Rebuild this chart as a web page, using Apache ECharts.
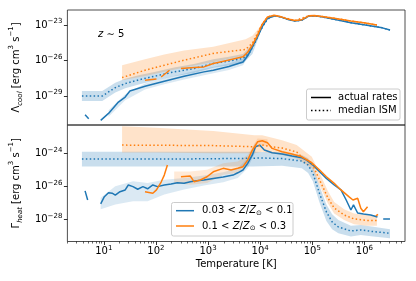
<!DOCTYPE html>
<html><head><meta charset="utf-8">
<script src="https://cdn.jsdelivr.net/npm/echarts@6/dist/echarts.min.js"></script>
<style>html,body{margin:0;padding:0;background:#fff}#c{width:416px;height:281px}</style>
</head><body><div id="c"></div>
<script>
// All values are log10: temperature in K, rates in erg cm^3 s^-1. '-' marks a gap.
const xTickLog = [1, 2, 3, 4, 5, 6];
const coolTickLog = [-29, -26, -23];
const heatTickLog = [-28, -26, -24];

// ---- Top panel: cooling ----
const coolBlueMedT = [0.58, 0.97, 1.22, 1.41, 1.69, 1.97, 2.35, 2.73, 3.10, 3.40, 3.67, 3.80, 3.90, 4.00, 4.10, 4.20, 4.29, 4.42, 4.55, 4.67, 4.80, 4.93, 5.04, 5.18, 5.42, 5.74, 6.02, 6.31, 6.49];
const coolBlueMedV = [-29.0, -29.0, -28.29, -27.95, -27.61, -27.33, -26.96, -26.68, -26.25, -26.05, -25.83, -25.3, -24.5, -23.5, -22.75, -22.3, -22.21, -22.35, -22.55, -22.66, -22.58, -22.24, -22.21, -22.30, -22.52, -22.80, -23.0, -23.2, -23.42];
const coolBlueBandT = [0.58, 0.97, 1.22, 1.41, 1.69, 1.97, 2.35, 2.73, 3.10, 3.40, 3.67, 3.85, 4.0];
const coolBlueBandLo = [-29.42, -29.42, -28.7, -28.35, -28.0, -27.7, -27.33, -27.05, -26.62, -26.42, -26.25, -25.45, -23.7];
const coolBlueBandHi = [-28.58, -28.58, -27.88, -27.55, -27.22, -26.96, -26.6, -26.3, -25.9, -25.68, -25.45, -24.6, -23.3];
const coolBlueActT = [0.64, 0.71, 0.82, 0.94, 1.09, 1.28, 1.41, 1.50, 1.79, 2.16, 2.54, 2.92, 3.10, 3.40, 3.67, 3.76, 3.85, 3.95, 4.04, 4.14, 4.29, 4.42, 4.55, 4.67, 4.80, 4.93, 5.04, 5.18, 5.42, 5.74, 6.02, 6.31, 6.49];
const coolBlueActV = [-30.58, -30.92, '-', -31.06, -30.47, -29.51, -29.09, -28.58, -28.18, -27.75, -27.33, -26.96, -26.82, -26.5, -26.12, -25.6, -24.84, -23.99, -23.14, -22.43, -22.21, -22.35, -22.55, -22.66, -22.58, -22.24, -22.21, -22.30, -22.52, -22.80, -23.0, -23.20, -23.42];
const coolBlueActBandT = [1.09, 1.41, 1.79, 2.16, 2.54, 2.92, 3.40, 3.67, 3.85];
const coolBlueActBandLo = [-30.75, -29.35, -28.45, -28.0, -27.6, -27.25, -26.8, -26.4, -25.1];
const coolBlueActBandHi = [-30.2, -28.85, -27.95, -27.5, -27.1, -26.7, -26.25, -25.85, -24.6];
const coolOrangeMedT = [1.35, 1.79, 2.16, 2.54, 3.10, 3.72, 3.85, 3.95, 4.04, 4.14, 4.27, 4.42, 4.67, 4.93, 5.18, 5.42, 5.74, 6.02, 6.24];
const coolOrangeMedV = [-27.44, -26.82, -26.40, -25.97, -25.40, -25.06, -24.53, -23.68, -22.92, -22.32, -22.18, -22.33, -22.62, -22.22, -22.27, -22.42, -22.66, -22.83, -23.0];
const coolOrangeBandT = [1.35, 1.79, 2.16, 2.54, 3.10, 3.72, 3.85, 3.95, 4.04];
const coolOrangeBandLo = [-27.67, -27.3, -26.95, -26.6, -26.12, -25.55, -25.0, -24.0, -23.0];
const coolOrangeBandHi = [-26.40, -25.9, -25.5, -25.15, -24.84, -24.21, -23.9, -23.4, -22.9];
const coolOrangeActT = [1.79, 2.01, 2.05, 2.10, 2.26, 2.37, 2.48, 2.73, 2.92, 3.10, 3.38, 3.67, 3.76, 3.85, 3.95, 4.04, 4.14, 4.27, 4.42, 4.55, 4.67, 4.80, 4.93, 5.04, 5.18, 5.42, 5.74, 6.02, 6.24];
const coolOrangeActV = [-27.67, -27.56, '-', -27.39, -26.82, '-', -26.68, -26.58, -26.54, -26.25, -25.97, -25.69, -25.3, -24.70, -23.85, -22.92, -22.32, -22.18, -22.33, -22.52, -22.62, -22.55, -22.22, -22.19, -22.27, -22.42, -22.66, -22.83, -23.0];

// ---- Bottom panel: heating ----
const heatBlueMedT = [0.58, 1.0, 2.0, 3.0, 3.85, 4.0, 4.42, 4.80, 4.92, 5.01, 5.14, 5.27, 5.38, 5.50, 5.74, 5.93, 6.17, 6.49];
const heatBlueMedV = [-24.35, -24.35, -24.35, -24.33, -24.30, -24.28, -24.32, -24.47, -24.71, -25.19, -26.45, -27.55, -28.16, -28.47, -28.71, -28.65, -28.75, -28.85];
const heatBlueBandT = [0.58, 3.85, 4.42, 4.80, 4.92, 5.01, 5.14, 5.27, 5.38, 5.50, 5.74, 5.93, 6.17, 6.49];
const heatBlueBandLo = [-24.8, -24.8, -24.75, -24.9, -25.2, -25.7, -27.0, -28.1, -28.6, -28.85, -29.05, -28.95, -29.05, -29.15];
const heatBlueBandHi = [-23.9, -23.9, -23.95, -24.1, -24.3, -24.75, -26.0, -27.1, -27.7, -28.05, -28.4, -28.35, -28.45, -28.6];
const heatBlueActT = [0.64, 0.69, 0.80, 0.94, 1.01, 1.09, 1.16, 1.22, 1.31, 1.41, 1.47, 1.56, 1.65, 1.75, 1.84, 1.94, 2.03, 2.16, 2.29, 2.41, 2.54, 2.66, 2.78, 2.92, 3.10, 3.29, 3.48, 3.57, 3.67, 3.76, 3.85, 3.91, 3.99, 4.08, 4.23, 4.42, 4.61, 4.80, 4.89, 5.01, 5.14, 5.27, 5.42, 5.55, 5.65, 5.74, 5.79, 5.87, 5.98, 6.12, 6.25, 6.31, 6.36, 6.49];
const heatBlueActV = [-26.28, -26.83, '-', -27.07, -26.63, -26.39, -26.42, -26.53, -26.33, -26.22, -25.92, -26.02, -26.18, -26.02, -26.15, -25.92, -26.02, -25.92, -25.86, -25.78, -25.82, -25.72, -25.66, -25.62, -25.52, -25.44, -25.32, -25.18, -25.01, -24.61, -24.10, -23.60, -23.50, -23.80, -23.96, -24.04, -24.16, -24.27, -24.41, -24.71, -25.12, -25.52, -25.92, -26.22, -26.83, -27.44, -27.13, -27.62, -27.68, -27.74, -27.86, '-', -27.99, -27.99];
const heatBlueActBandT = [0.94, 1.22, 1.56, 1.84, 2.16, 2.54, 2.92, 3.29, 3.57, 3.76, 3.91];
const heatBlueActBandLo = [-27.4, -27.1, -26.9, -26.9, -26.5, -26.2, -25.95, -25.75, -25.5, -24.9, -23.9];
const heatBlueActBandHi = [-26.7, -26.0, -25.7, -25.8, -25.6, -25.5, -25.35, -25.15, -24.9, -24.3, -23.3];
const heatOrangeMedT = [1.35, 2.0, 3.10, 3.89, 4.04, 4.23, 4.42, 4.70, 4.80, 4.99, 5.14, 5.30, 5.42, 5.61, 5.80, 6.05, 6.24];
const heatOrangeMedV = [-23.50, -23.51, -23.53, -23.60, -23.50, -23.6, -23.68, -23.92, -24.22, -24.59, -25.62, -26.71, -27.32, -27.74, -27.98, -28.07, -28.07];
const heatOrangeBandT = [1.35, 2.0, 3.10, 3.89, 4.04, 4.42, 4.70, 4.99, 5.14, 5.30, 5.42, 5.61, 5.80, 6.05, 6.24];
const heatOrangeBandLo = [-23.95, -23.95, -24.0, -24.0, -23.9, -24.1, -24.3, -24.9, -25.95, -27.05, -27.65, -28.05, -28.3, -28.4, -28.4];
const heatOrangeBandHi = [-22.35, -22.45, -22.65, -22.9, -22.9, -23.2, -23.5, -24.2, -25.2, -26.3, -26.95, -27.4, -27.65, -27.75, -27.75];
const heatOrangeActT = [1.79, 1.94, 2.01, 2.10, 2.16, 2.22, 2.35, 2.48, 2.66, 2.73, 2.85, 2.98, 3.10, 3.29, 3.44, 3.57, 3.67, 3.76, 3.85, 3.95, 4.04, 4.14, 4.23, 4.42, 4.61, 4.80, 4.99, 5.14, 5.27, 5.42, 5.55, 5.70, 5.78, 5.87, 5.93, 5.98, 6.06, 6.15, 6.22, 6.26];
const heatOrangeActV = [-26.33, -26.42, -26.22, -25.74, -25.32, -24.71, '-', -25.42, -25.38, -25.72, -25.62, -25.42, -25.12, -24.91, -25.01, -24.91, -24.81, -24.41, -23.80, -23.30, -23.24, -23.36, -23.70, -23.90, -24.04, -24.21, -24.57, -25.01, -25.42, -25.82, -26.22, -26.63, -26.83, -26.73, -27.33, -27.54, -27.24, '-', -27.80, -27.70];
const heatOrangeActBandT = [2.35, 2.66, 2.98, 3.29, 3.57, 3.76, 3.95, 4.14];
const heatOrangeActBandLo = [-25.8, -25.9, -25.8, -25.3, -25.2, -24.7, -23.5, -23.55];
const heatOrangeActBandHi = [-25.1, -25.1, -25.0, -24.6, -24.5, -24.1, -23.1, -23.15];

const minorLog = [];
for (let d = 0; d <= 6; d++) for (let k = 2; k <= 9; k++) { const v = d + Math.log10(k); if (v > 0.301 && v < 6.778) minorLog.push(v); }

const BLUE = '#1f77b4', ORANGE = '#ff7f0e';
const BLUE_F = 'rgba(31,119,180,0.24)', ORANGE_F = 'rgba(255,127,14,0.22)';
const BLUE_F2 = 'rgba(31,119,180,0.16)', ORANGE_F2 = 'rgba(255,127,14,0.16)';
const FONT = 'DejaVu Sans';
const zip = (T, V) => T.map((t, i) => [t, V[i]]);

function line(name, T, V, color, dotted, g) {
  return { type: 'line', name, data: zip(T, V), xAxisIndex: g, yAxisIndex: g, symbol: 'none',
    connectNulls: false, silent: true, animation: false, clip: true,
    lineStyle: { color, width: 1.5, type: dotted ? [1.5, 2.4] : 'solid' } };
}
function band(T, lo, hi, color, g) {
  return {
    type: 'custom', xAxisIndex: g, yAxisIndex: g, silent: true, animation: false, clip: true,
    data: [[T[0], lo[0]]],
    renderItem: (params, api) => {
      const top = T.map((t, i) => api.coord([t, hi[i]]));
      const bot = T.map((t, i) => api.coord([t, lo[i]])).reverse();
      return { type: 'polygon', shape: { points: top.concat(bot) }, style: { fill: color } };
    }
  };
}
const sup = v => { const n = Math.round(v); return '10{s|' + (n < 0 ? '\u2212' + (-n) : n) + '}'; };
const labelRich = { s: { fontSize: 7, lineHeight: 8, verticalAlign: 'top', fontFamily: FONT, color: '#000' } };
const nameRich = {
  s: { fontSize: 7, lineHeight: 8, verticalAlign: 'top', fontFamily: FONT, color: '#000' },
  b: { fontSize: 7, lineHeight: 8, verticalAlign: 'bottom', fontStyle: 'italic', fontFamily: FONT, color: '#000' }
};

const xBase = (g, labels) => ({
  type: 'value', gridIndex: g, min: Math.log10(2), max: Math.log10(6e6), position: 'bottom',
  axisLine: { show: false, onZero: false }, splitLine: { show: false },
  axisTick: { show: labels, customValues: xTickLog, length: 3.5, lineStyle: { color: '#000', width: 0.8 } },
  axisLabel: { show: labels, customValues: xTickLog, formatter: sup, fontSize: 10, lineHeight: 14, fontFamily: FONT, color: '#000', margin: 3, rich: labelRich },
  name: labels ? 'Temperature [K]' : '', nameLocation: 'middle', nameGap: 18,
  nameTextStyle: { fontSize: 10, fontFamily: FONT, color: '#000' }
});
const yBase = (g, min, max, ticks, name) => ({
  type: 'value', gridIndex: g, min, max,
  axisLine: { show: false, onZero: false }, splitLine: { show: false },
  axisTick: { show: true, customValues: ticks, length: 3.5, lineStyle: { color: '#000', width: 0.8 } },
  axisLabel: { customValues: ticks, formatter: sup, fontSize: 10, lineHeight: 14, fontFamily: FONT, color: '#000', margin: 5, rich: labelRich },
  name, nameLocation: 'middle', nameGap: 30, nameRotate: 90,
  nameTextStyle: { fontSize: 10, lineHeight: 16, fontFamily: FONT, color: '#000', rich: nameRich }
});

const series = [
  band(coolBlueBandT, coolBlueBandLo, coolBlueBandHi, BLUE_F, 0),
  band(coolBlueActBandT, coolBlueActBandLo, coolBlueActBandHi, BLUE_F2, 0),
  line('cbm', coolBlueMedT, coolBlueMedV, BLUE, true, 0),
  line('cbact', coolBlueActT, coolBlueActV, BLUE, false, 0),
  band(coolOrangeBandT, coolOrangeBandLo, coolOrangeBandHi, ORANGE_F, 0),
  line('com', coolOrangeMedT, coolOrangeMedV, ORANGE, true, 0),
  line('coact', coolOrangeActT, coolOrangeActV, ORANGE, false, 0),
  band(heatBlueBandT, heatBlueBandLo, heatBlueBandHi, BLUE_F, 1),
  band(heatBlueActBandT, heatBlueActBandLo, heatBlueActBandHi, BLUE_F2, 1),
  line('hbm', heatBlueMedT, heatBlueMedV, BLUE, true, 1),
  line('hbact', heatBlueActT, heatBlueActV, BLUE, false, 1),
  band(heatOrangeBandT, heatOrangeBandLo, heatOrangeBandHi, ORANGE_F, 1),
  band(heatOrangeActBandT, heatOrangeActBandLo, heatOrangeActBandHi, ORANGE_F2, 1),
  line('hom', heatOrangeMedT, heatOrangeMedV, ORANGE, true, 1),
  line('hoact', heatOrangeActT, heatOrangeActV, ORANGE, false, 1)
];

const minorAxis = {
  type: 'value', gridIndex: 1, min: Math.log10(2), max: Math.log10(6e6), position: 'bottom',
  axisLine: { show: false, onZero: false }, splitLine: { show: false },
  axisTick: { show: true, customValues: minorLog, length: 2, lineStyle: { color: '#000', width: 0.6 } },
  axisLabel: { show: false }
};

const chart = echarts.init(document.getElementById('c'), null, { renderer: 'canvas' });
chart.setOption({
  animation: false,
  backgroundColor: '#fff',
  grid: [
    { left: 61, top: 10, width: 344, height: 115, show: true, borderColor: '#222', borderWidth: 0.8, backgroundColor: 'transparent' },
    { left: 61, top: 125, width: 344, height: 116.5, show: true, borderColor: '#222', borderWidth: 0.8, backgroundColor: 'transparent' }
  ],
  xAxis: [xBase(0, false), xBase(1, true), minorAxis],
  yAxis: [
    yBase(0, -31.45, -21.73, coolTickLog, '\u039b{b|cool} [erg cm{s|3} s{s|\u22121}]'),
    yBase(1, -29.35, -22.28, heatTickLog, '\u0393{b|heat} [erg cm{s|3} s{s|\u22121}]')
  ],
  series,
  graphic: [
    { type: 'text', z: 100, style: { x: 98, y: 34, text: '{i|z} \u223c 5', verticalAlign: 'middle', font: '10px DejaVu Sans', fill: '#000',
      rich: { i: { fontStyle: 'italic', fontSize: 10, fontFamily: FONT, fill: '#000' } } } },
    { type: 'rect', z: 100, shape: { x: 306.5, y: 89, width: 93.5, height: 31, r: 2 }, style: { fill: 'rgba(255,255,255,0.85)', stroke: '#ccc', lineWidth: 1 } },
    { type: 'line', z: 101, shape: { x1: 311, y1: 97.5, x2: 331, y2: 97.5 }, style: { stroke: '#000', lineWidth: 1.5 } },
    { type: 'line', z: 101, shape: { x1: 311, y1: 110.5, x2: 331, y2: 110.5 }, style: { stroke: '#000', lineWidth: 1.5, lineDash: [1.5, 2.4] } },
    { type: 'text', z: 101, style: { x: 338, y: 97.5, text: 'actual rates', verticalAlign: 'middle', font: '10px DejaVu Sans', fill: '#000' } },
    { type: 'text', z: 101, style: { x: 338, y: 110.5, text: 'median ISM', verticalAlign: 'middle', font: '10px DejaVu Sans', fill: '#000' } },
    { type: 'rect', z: 100, shape: { x: 171.5, y: 202.5, width: 121.5, height: 33.5, r: 2 }, style: { fill: 'rgba(255,255,255,0.85)', stroke: '#ccc', lineWidth: 1 } },
    { type: 'line', z: 101, shape: { x1: 176, y1: 210.7, x2: 194, y2: 210.7 }, style: { stroke: BLUE, lineWidth: 1.5 } },
    { type: 'line', z: 101, shape: { x1: 176, y1: 226, x2: 194, y2: 226 }, style: { stroke: ORANGE, lineWidth: 1.5 } },
    { type: 'text', z: 101, style: { x: 202, y: 210.7, text: '0.03 < {i|Z}/{i|Z}{b|\u2299} < 0.1', verticalAlign: 'middle', font: '10px DejaVu Sans', fill: '#000',
      rich: { i: { fontStyle: 'italic', fontSize: 10, fontFamily: FONT, fill: '#000' }, b: { fontSize: 7, fontFamily: FONT, fill: '#000', padding: [5, 0, 0, 0] } } } },
    { type: 'text', z: 101, style: { x: 202, y: 226, text: '0.1 < {i|Z}/{i|Z}{b|\u2299} < 0.3', verticalAlign: 'middle', font: '10px DejaVu Sans', fill: '#000',
      rich: { i: { fontStyle: 'italic', fontSize: 10, fontFamily: FONT, fill: '#000' }, b: { fontSize: 7, fontFamily: FONT, fill: '#000', padding: [5, 0, 0, 0] } } } }
  ]
});
</script></body></html>
